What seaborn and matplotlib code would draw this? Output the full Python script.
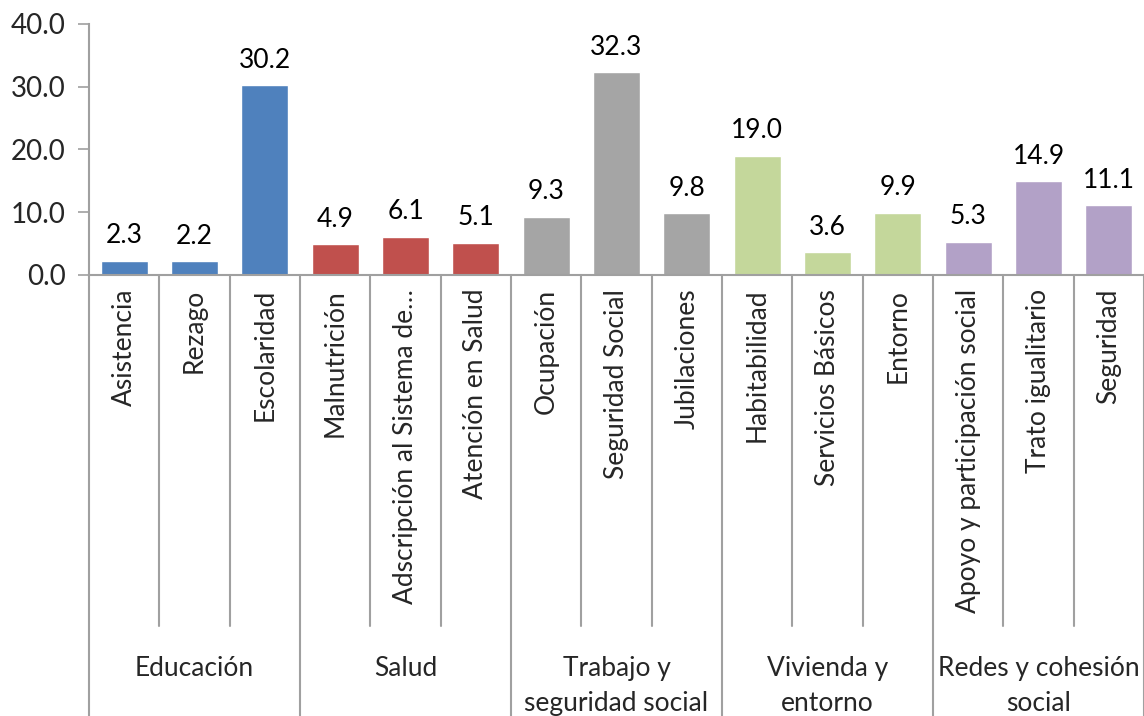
import numpy as np
import pandas as pd
import matplotlib
matplotlib.use("Agg")
import matplotlib.pyplot as plt
import matplotlib.transforms as mtransforms
import seaborn as sns

# ==============================
# DATA
# ==============================
categories = ["Asistencia", "Rezago", "Escolaridad",
              "Malnutrición", "Adscripción al Sistema de…", "Atención en Salud",
              "Ocupación", "Seguridad Social", "Jubilaciones",
              "Habitabilidad", "Servicios Básicos", "Entorno",
              "Apoyo y participación social", "Trato igualitario", "Seguridad"]
values = [2.3, 2.2, 30.2,
          4.9, 6.1, 5.1,
          9.3, 32.3, 9.8,
          19.0, 3.6, 9.9,
          5.3, 14.9, 11.1]
group_names = ["Educación", "Salud", "Trabajo y\nseguridad social",
               "Vivienda y\nentorno", "Redes y cohesión\nsocial"]
group_sizes = [3, 3, 3, 3, 3]
group_colors = ["#4F81BD", "#C0504D", "#A5A5A5", "#C4D79B", "#B2A1C7"]
y_ticks = [0, 10, 20, 30, 40]

groups = np.repeat(group_names, group_sizes)
df = pd.DataFrame({"categoria": categories, "valor": values, "grupo": groups})

sns.set_theme(style="white")
plt.rcParams['font.family'] = ['Lato', 'DejaVu Sans']
FS = 19
GRAY = "#A0A0A0"

fig = plt.figure(figsize=(11.44, 7.16), dpi=100)
ax = fig.add_axes([0.0778, 0.616, 0.9222, 0.3505])

sns.barplot(data=df, x="categoria", y="valor", hue="grupo", order=categories,
            hue_order=group_names, palette=group_colors, dodge=False,
            width=0.67, legend=False, ax=ax, saturation=1)

for cont in ax.containers:
    ax.bar_label(cont, fmt="%.1f", padding=9, fontsize=FS, color="black")

ax.set_xlim(-0.5, len(categories) - 0.5)
ax.set_ylim(0, 40)
ax.set_yticks(y_ticks)
ax.set_yticklabels([f"{t:.1f}" for t in y_ticks], fontsize=FS + 1)
ax.set_xlabel("")
ax.set_ylabel("")
ax.set_xticks(range(len(categories)))
ax.set_xticklabels(categories, rotation=90, fontsize=FS, va="top", ha="center")
ax.tick_params(axis="x", length=0, pad=10)
ax.tick_params(axis="y", length=8, width=1.2, color=GRAY, direction="out", left=True, pad=9)

for side in ["top", "right"]:
    ax.spines[side].set_visible(False)
for side in ["left", "bottom"]:
    ax.spines[side].set_color(GRAY)
    ax.spines[side].set_linewidth(1.5)

# multi-level category separators
trans = mtransforms.blended_transform_factory(ax.transData, ax.transAxes)
bounds = np.cumsum([0] + group_sizes)
for i in range(len(categories) + 1):
    xb = i - 0.5
    ybot = -1.76 if i in bounds else -1.40
    ax.plot([xb, xb], [0, ybot], color=GRAY, lw=1.5, transform=trans, clip_on=False)

for g, name in enumerate(group_names):
    xc = (bounds[g] + bounds[g + 1] - 1) / 2
    ax.text(xc, -1.52, name, transform=trans, ha="center", va="top",
            fontsize=FS, linespacing=1.5)

plt.savefig("out.png", dpi=100)
